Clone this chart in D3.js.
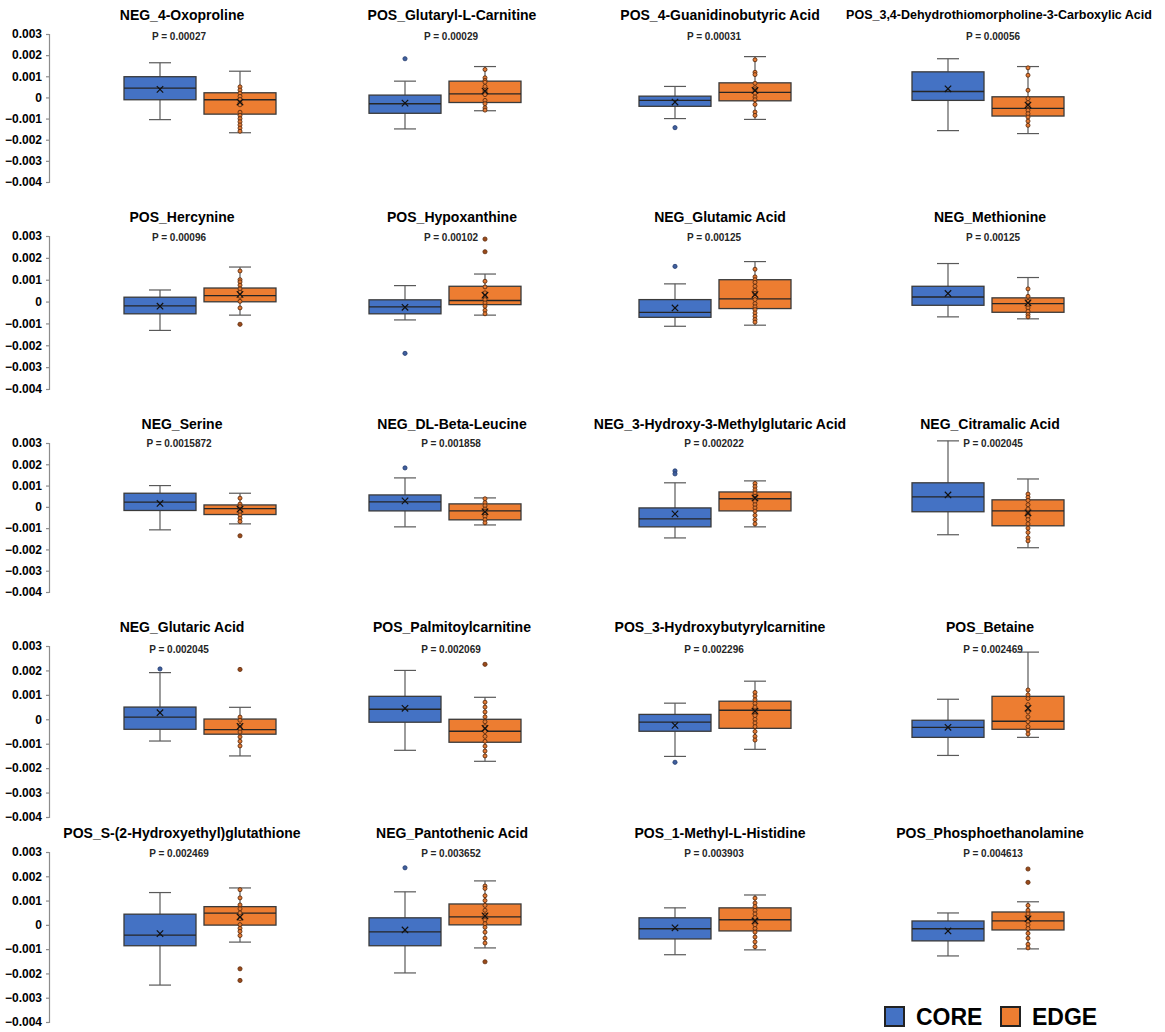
<!DOCTYPE html>
<html>
<head>
<meta charset="utf-8">
<script src="https://cdn.jsdelivr.net/npm/d3@7"></script>
<style>
  body { margin: 0; background: #fff; }
  svg { display: block; font-family: "Liberation Sans", Arial, sans-serif; }
</style>
</head>
<body>
<svg id="chart" width="1165" height="1032"></svg>
<script>
/****** Data (values in units of 0.001) *******/
const groups = ["CORE", "EDGE"];
const yTicks = [0.003, 0.002, 0.001, 0, -0.001, -0.002, -0.003, -0.004];

const panelNames = [
    "NEG_4-Oxoproline", "POS_Glutaryl-L-Carnitine", "POS_4-Guanidinobutyric Acid", "POS_3,4-Dehydrothiomorpholine-3-Carboxylic Acid",
    "POS_Hercynine", "POS_Hypoxanthine", "NEG_Glutamic Acid", "NEG_Methionine",
    "NEG_Serine", "NEG_DL-Beta-Leucine", "NEG_3-Hydroxy-3-Methylglutaric Acid", "NEG_Citramalic Acid",
    "NEG_Glutaric Acid", "POS_Palmitoylcarnitine", "POS_3-Hydroxybutyrylcarnitine", "POS_Betaine",
    "POS_S-(2-Hydroxyethyl)glutathione", "NEG_Pantothenic Acid", "POS_1-Methyl-L-Histidine", "POS_Phosphoethanolamine"
];
const pLabels = [
    "P = 0.00027", "P = 0.00029", "P = 0.00031", "P = 0.00056",
    "P = 0.00096", "P = 0.00102", "P = 0.00125", "P = 0.00125",
    "P = 0.0015872", "P = 0.001858", "P = 0.002022", "P = 0.002045",
    "P = 0.002045", "P = 0.002069", "P = 0.002296", "P = 0.002469",
    "P = 0.002469", "P = 0.003652", "P = 0.003903", "P = 0.004613"
];

// [lower whisker, Q1, median, Q3, upper whisker, mean]
const coreBoxes = [
    [-1.05, -0.11, 0.44, 0.98, 1.64, 0.38],
    [-1.49, -0.75, -0.30, 0.11, 0.77, -0.27],
    [-1.00, -0.42, -0.14, 0.06, 0.52, -0.22],
    [-1.57, -0.14, 0.28, 1.21, 1.83, 0.41],
    [-1.32, -0.56, -0.20, 0.20, 0.53, -0.21],
    [-0.84, -0.56, -0.24, 0.08, 0.73, -0.26],
    [-1.13, -0.72, -0.49, 0.09, 0.81, -0.29],
    [-0.70, -0.17, 0.21, 0.70, 1.74, 0.37],
    [-1.08, -0.17, 0.22, 0.64, 1.00, 0.16],
    [-0.94, -0.19, 0.23, 0.56, 1.36, 0.28],
    [-1.46, -0.94, -0.56, -0.05, 1.13, -0.33],
    [-1.31, -0.23, 0.47, 1.13, 3.10, 0.56],
    [-0.89, -0.41, 0.09, 0.50, 1.91, 0.27],
    [-1.27, -0.12, 0.41, 0.94, 2.00, 0.45],
    [-1.52, -0.49, -0.12, 0.20, 0.66, -0.25],
    [-1.48, -0.74, -0.33, -0.04, 0.82, -0.33],
    [-2.48, -0.86, -0.42, 0.44, 1.33, -0.36],
    [-1.98, -0.86, -0.29, 0.29, 1.36, -0.21],
    [-1.23, -0.58, -0.16, 0.29, 0.70, -0.12],
    [-1.28, -0.66, -0.16, 0.16, 0.49, -0.25]
];
const edgeBoxes = [
    [-1.67, -0.79, -0.11, 0.22, 1.24, -0.22],
    [-0.63, -0.24, 0.17, 0.77, 1.46, 0.30],
    [-1.04, -0.16, 0.24, 0.69, 1.93, 0.33],
    [-1.71, -0.88, -0.52, 0.03, 1.46, -0.36],
    [-0.62, -0.01, 0.27, 0.62, 1.58, 0.33],
    [-0.62, -0.14, 0.05, 0.70, 1.26, 0.29],
    [-1.08, -0.32, 0.12, 1.00, 1.83, 0.32],
    [-0.79, -0.49, -0.09, 0.17, 1.10, -0.06],
    [-0.80, -0.36, -0.08, 0.09, 0.64, -0.11],
    [-0.85, -0.61, -0.19, 0.14, 0.42, -0.23],
    [-0.94, -0.19, 0.38, 0.70, 1.22, 0.42],
    [-1.92, -0.89, -0.19, 0.33, 1.31, -0.28],
    [-1.50, -0.61, -0.42, 0.01, 0.49, -0.29],
    [-1.72, -0.94, -0.49, 0.00, 0.90, -0.37],
    [-1.23, -0.37, 0.37, 0.74, 1.56, 0.33],
    [-0.74, -0.41, -0.08, 0.94, 2.75, 0.45],
    [-0.71, -0.01, 0.48, 0.75, 1.52, 0.32],
    [-0.95, 0.00, 0.33, 0.86, 1.81, 0.37],
    [-1.03, -0.25, 0.21, 0.70, 1.23, 0.16],
    [-0.99, -0.21, 0.16, 0.53, 0.95, 0.25]
];

const coreOutliers = [
    [], [1.83], [-1.43], [],
    [], [-2.37], [1.61], [],
    [], [1.83], [1.69, 1.55], [],
    [2.06], [], [-1.76], [],
    [], [2.35], [], []
];
const edgeOutliers = [
    [], [], [], [],
    [-1.04], [2.86, 2.28], [], [],
    [-1.36], [], [], [],
    [2.04], [2.25], [], [],
    [-1.81, -2.29], [-1.52], [], [2.30, 1.75]
];
const edgePoints = [
    [0.50, 0.35, 0.20, 0.05, -0.10, -0.25, -0.35, -0.70, -0.85, -1.00, -1.15, -1.30, -1.45, -1.60],
    [1.32, 0.93, 0.80, 0.72, 0.52, 0.33, 0.25, 0.13, -0.14, -0.30, -0.49, -0.60],
    [1.78, 1.19, 1.08, 0.67, 0.46, 0.36, 0.20, 0.02, -0.11, -0.33, -0.69, -0.85],
    [1.40, 1.05, 0.34, -0.06, -0.25, -0.39, -0.61, -0.77, -0.93, -1.12, -1.32],
    [1.40, 1.00, 0.90, 0.75, 0.58, 0.43, 0.24, 0.01, -0.29],
    [0.93, 0.67, 0.40, 0.21, 0.09, -0.06, -0.21, -0.40, -0.56],
    [1.48, 1.13, 1.00, 0.88, 0.70, 0.52, 0.37, 0.09, -0.09, -0.24, -0.37, -0.52, -0.67, -0.82, -0.94],
    [0.58, 0.24, 0.01, -0.14, -0.29, -0.44, -0.59, -0.70],
    [0.41, 0.13, 0.01, -0.11, -0.22, -0.38, -0.53, -0.69],
    [0.38, 0.20, 0.05, -0.10, -0.20, -0.30, -0.45, -0.60, -0.75],
    [1.10, 0.95, 0.80, 0.65, 0.50, 0.40, 0.25, 0.10, -0.05, -0.20, -0.40, -0.60, -0.80],
    [0.60, 0.45, 0.30, 0.10, -0.10, -0.30, -0.45, -0.60, -0.80, -1.00, -1.20, -1.45, -1.60],
    [0.09, -0.04, -0.25, -0.38, -0.52, -0.72, -0.90, -1.09],
    [0.70, 0.50, 0.30, 0.10, -0.10, -0.30, -0.50, -0.70, -0.90, -1.10, -1.30, -1.50],
    [1.10, 0.95, 0.80, 0.65, 0.50, 0.30, 0.15, 0.00, -0.15, -0.30, -0.50, -0.70, -0.85],
    [1.20, 1.00, 0.85, 0.60, 0.30, 0.10, -0.10, -0.30, -0.45, -0.60],
    [1.45, 1.11, 0.82, 0.66, 0.49, 0.25, 0.01, -0.14, -0.27, -0.44],
    [1.60, 1.50, 1.20, 1.00, 0.80, 0.60, 0.40, 0.20, 0.05, -0.10, -0.30, -0.55, -0.75],
    [1.10, 0.90, 0.75, 0.60, 0.45, 0.30, 0.15, 0.00, -0.15, -0.30, -0.50, -0.70, -0.90],
    [0.80, 0.60, 0.45, 0.30, 0.15, 0.00, -0.15, -0.35, -0.55, -0.80, -0.95]
];

/****** Layout *******/
const rows = [
    {top: 34, bottom: 182, title: 15, p: 36},
    {top: 236, bottom: 389, title: 217, p: 237},
    {top: 443, bottom: 592, title: 424, p: 443},
    {top: 646, bottom: 817, title: 627, p: 649},
    {top: 852, bottom: 1022, title: 833, p: 853}
];
const colCenter = [200, 445, 715, 988];
const colTitle = [182, 452, 720, 990];
const colP = [179, 451, 714, 993];
const axisX = 49;
const fills = {CORE: "#4472C4", EDGE: "#ED7D31"};
const unit = 0.001;

const svg = d3.select("#chart");

/** y axes on the left of each row **/
rows.forEach(function (r) {
    var y = d3.scaleLinear().domain([-0.004, 0.003]).range([r.bottom, r.top]);
    var ax = svg.append("g")
        .attr("transform", "translate(" + axisX + ",0)")
        .call(d3.axisLeft(y).tickValues(yTicks).tickSize(3).tickPadding(4)
            .tickFormat(function (d) { return d === 0 ? "0" : d3.format(".3f")(d); }));
    ax.select(".domain").attr("stroke", "#8c8c8c").attr("stroke-width", 1.2);
    ax.selectAll(".tick line").attr("stroke", "#8c8c8c").attr("stroke-width", 1.2);
    ax.selectAll(".tick text")
        .attr("fill", "#000")
        .style("font-size", "12px")
        .style("font-weight", "bold");
});

/** one panel per metabolite **/
panelNames.forEach(function (name, i) {
    var r = rows[Math.floor(i / 4)];
    var c = i % 4;
    var y = d3.scaleLinear().domain([-0.004, 0.003]).range([r.bottom, r.top]);
    var x = d3.scaleBand().domain(groups)
        .range([colCenter[c] - 80, colCenter[c] + 80])
        .paddingInner(0.1).paddingOuter(0.05);
    var g = svg.append("g");

    // very long names are shrunk to fit, as in the original
    g.append("text")
        .attr("x", name.length > 40 ? 999 : colTitle[c]).attr("y", r.title)
        .attr("dy", "0.35em")
        .attr("text-anchor", "middle")
        .style("font-size", name.length > 40 ? "12.5px" : "14px").style("font-weight", "bold")
        .text(name);

    g.append("text")
        .attr("x", colP[c]).attr("y", r.p)
        .attr("dy", "0.35em")
        .attr("text-anchor", "middle")
        .attr("fill", "#262626")
        .style("font-size", "10px").style("font-weight", "bold")
        .text(pLabels[i]);

    groups.forEach(function (grp) {
        var s = (grp === "CORE" ? coreBoxes : edgeBoxes)[i].map(function (v) { return v * unit; });
        var x0 = x(grp), bw = x.bandwidth(), cx = x0 + bw / 2;
        var wc = "#595959";

        // whiskers
        g.append("line").attr("x1", cx).attr("x2", cx)
            .attr("y1", y(s[4])).attr("y2", y(s[3]))
            .attr("stroke", wc).attr("stroke-width", 1.2);
        g.append("line").attr("x1", cx).attr("x2", cx)
            .attr("y1", y(s[1])).attr("y2", y(s[0]))
            .attr("stroke", wc).attr("stroke-width", 1.2);
        [s[0], s[4]].forEach(function (v) {
            g.append("line").attr("x1", cx - 11).attr("x2", cx + 11)
                .attr("y1", y(v)).attr("y2", y(v))
                .attr("stroke", wc).attr("stroke-width", 1.2);
        });

        // box
        g.append("rect")
            .attr("x", x0).attr("y", y(s[3]))
            .attr("width", bw).attr("height", y(s[1]) - y(s[3]))
            .attr("fill", fills[grp])
            .attr("stroke", "#3a3a3a").attr("stroke-width", 1.3);
        g.append("line").attr("x1", x0).attr("x2", x0 + bw)
            .attr("y1", y(s[2])).attr("y2", y(s[2]))
            .attr("stroke", "#262626").attr("stroke-width", 1.3);

        // inner points (EDGE only)
        if (grp === "EDGE") {
            g.selectAll(null).data(edgePoints[i]).enter().append("circle")
                .attr("cx", cx).attr("cy", function (d) { return y(d * unit); })
                .attr("r", 2)
                .attr("fill", "#E47A33")
                .attr("stroke", "#5e2e10").attr("stroke-width", 0.9);
        }

        // outliers
        var outs = (grp === "CORE" ? coreOutliers : edgeOutliers)[i];
        g.selectAll(null).data(outs).enter().append("circle")
            .attr("cx", cx).attr("cy", function (d) { return y(d * unit); })
            .attr("r", 2.1)
            .attr("fill", grp === "CORE" ? "#3f5f9f" : "#9b4a1a")
            .attr("stroke", grp === "CORE" ? "#223a6b" : "#5e2c0c").attr("stroke-width", 0.8);

        // mean marker
        var my = y(s[5]);
        g.append("path")
            .attr("d", "M" + (cx - 3.2) + "," + (my - 3.2) + "L" + (cx + 3.2) + "," + (my + 3.2) +
                "M" + (cx + 3.2) + "," + (my - 3.2) + "L" + (cx - 3.2) + "," + (my + 3.2))
            .attr("stroke", "#111").attr("stroke-width", 1.2).attr("fill", "none");
    });
});

/** legend **/
var legend = svg.append("g").attr("transform", "translate(885,1007)");
groups.forEach(function (grp, k) {
    var lg = legend.append("g").attr("transform", "translate(" + (k * 116) + ",0)");
    lg.append("rect").attr("x", 0).attr("y", 0).attr("width", 19).attr("height", 19)
        .attr("fill", fills[grp]).attr("stroke", "#222").attr("stroke-width", 2);
    lg.append("text").attr("x", 31).attr("y", 18)
        .style("font-size", "23px").style("font-weight", "bold")
        .text(grp);
});
</script>
</body>
</html>
